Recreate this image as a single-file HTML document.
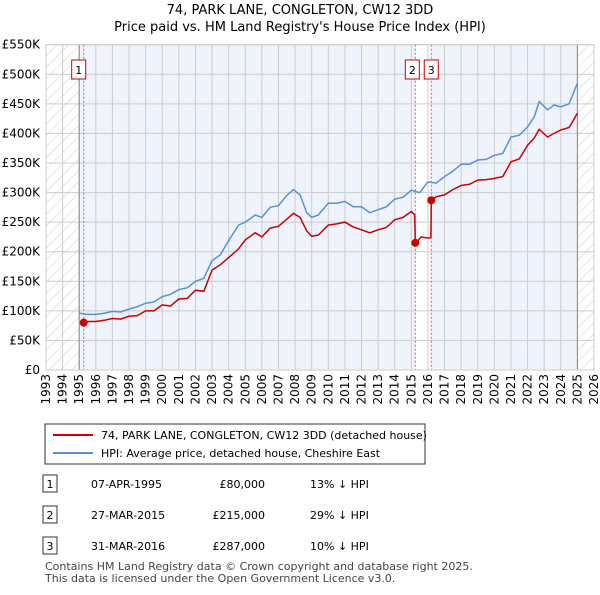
<!DOCTYPE html>
<html><head><meta charset="utf-8"><style>
body{margin:0;background:#fff;font-family:"Liberation Sans",sans-serif;}
svg text{font-family:"DejaVu Sans","Liberation Sans",sans-serif;}
</style></head><body>
<svg width="600" height="590" id="chart">
<defs><pattern id="hatch" width="8" height="8" patternUnits="userSpaceOnUse" patternTransform="rotate(45)"><rect width="8" height="8" fill="#fff"/><line x1="0" y1="0" x2="0" y2="8" stroke="#ccc" stroke-width="1"/></pattern></defs>
<text x="300" y="14" text-anchor="middle" font-size="13">74, PARK LANE, CONGLETON, CW12 3DD</text>
<text x="300" y="31" text-anchor="middle" font-size="13">Price paid vs. HM Land Registry's House Price Index (HPI)</text>
<g id="plot"></g>
<g>
<rect x="45" y="424" width="380" height="40" fill="#fff" stroke="#333"/>
<line x1="53" y1="435" x2="93" y2="435" stroke="#cc0000" stroke-width="2"/>
<text x="101" y="439" font-size="11">74, PARK LANE, CONGLETON, CW12 3DD (detached house)</text>
<line x1="53" y1="453" x2="93" y2="453" stroke="#5b8fd6" stroke-width="2"/>
<text x="101" y="457" font-size="11">HPI: Average price, detached house, Cheshire East</text>
</g>
<g font-size="11">
<rect x="43" y="475" width="14" height="17" fill="#fff" stroke="#333"/><text x="50" y="488" text-anchor="middle">1</text>
<text x="91" y="488">07-APR-1995</text><text x="265" y="488" text-anchor="end">£80,000</text><text x="310" y="488">13% ↓ HPI</text>
<rect x="43" y="506" width="14" height="17" fill="#fff" stroke="#333"/><text x="50" y="519" text-anchor="middle">2</text>
<text x="91" y="519">27-MAR-2015</text><text x="265" y="519" text-anchor="end">£215,000</text><text x="310" y="519">29% ↓ HPI</text>
<rect x="43" y="537" width="14" height="17" fill="#fff" stroke="#333"/><text x="50" y="550" text-anchor="middle">3</text>
<text x="91" y="550">31-MAR-2016</text><text x="265" y="550" text-anchor="end">£287,000</text><text x="310" y="550">10% ↓ HPI</text>
</g>
<text x="45" y="570" font-size="11" fill="#444">Contains HM Land Registry data © Crown copyright and database right 2025.</text>
<text x="45" y="582" font-size="11" fill="#444">This data is licensed under the Open Government Licence v3.0.</text>
</svg>
<script>
const hpiYears=[1995,1995.5,1996,1996.5,1997,1997.5,1998,1998.5,1999,1999.5,2000,2000.5,2001,2001.5,2002,2002.5,2003,2003.5,2004,2004.6,2005,2005.6,2006,2006.5,2007,2007.5,2007.9,2008.3,2008.7,2009,2009.4,2010,2010.5,2011,2011.5,2012,2012.5,2013,2013.5,2014,2014.5,2015,2015.5,2016,2016.5,2017,2017.5,2018,2018.5,2019,2019.5,2020,2020.5,2021,2021.5,2022,2022.4,2022.7,2023.2,2023.6,2024,2024.5,2025];
const hpiValues=[96,94,94,96,99,98,103,107,113,115,124,128,136,139,150,155,185,195,219,245,250,262,258,275,278,295,305,296,266,258,262,282,282,285,276,276,266,271,276,289,292,304,300,318,316,327,336,348,348,355,356,363,366,394,397,411,428,454,440,448,445,450,485];
const redYears=[1995.27,1995.5,1996,1996.5,1997,1997.5,1998,1998.5,1999,1999.5,2000,2000.5,2001,2001.5,2002,2002.5,2003,2003.5,2004,2004.6,2005,2005.6,2006,2006.5,2007,2007.5,2007.9,2008.3,2008.7,2009,2009.4,2010,2010.5,2011,2011.5,2012,2012.5,2013,2013.5,2014,2014.5,2015,2015.2,2015.24,2015.6,2016,2016.18,2016.2,2016.5,2017,2017.5,2018,2018.5,2019,2019.5,2020,2020.5,2021,2021.5,2022,2022.4,2022.7,2023.2,2023.6,2024,2024.5,2025];
const redValues=[80,82,82,84,87,86,91,92,100,100,110,108,120,121,135,133,169,178,190,205,220,232,225,240,243,255,265,258,235,226,228,245,247,250,242,237,232,237,241,254,258,268,262,214,225,223,224,287,293,296,305,312,314,321,322,324,327,352,357,380,392,407,394,400,406,410,434];
const saleYears=[1995.27,2015.24,2016.2];
const saleValues=[80,215,287];
const saleLabels=["1","2","3"];
const yTicks=[0,50,100,150,200,250,300,350,400,450,500,550];
const yTickLabels=["£0","£50K","£100K","£150K","£200K","£250K","£300K","£350K","£400K","£450K","£500K","£550K"];
const xTicks=[1993,1994,1995,1996,1997,1998,1999,2000,2001,2002,2003,2004,2005,2006,2007,2008,2009,2010,2011,2012,2013,2014,2015,2016,2017,2018,2019,2020,2021,2022,2023,2024,2025,2026];

const X0=46,X1=594,Y0=370,Y1=44.7;
const xS=y=>X0+(y-1993)/(2026-1993)*(X1-X0);
const yS=v=>Y0-v/550*(Y0-Y1);
const NS="http://www.w3.org/2000/svg";
const g=document.getElementById('plot');
function mk(t,a){const e=document.createElementNS(NS,t);for(const k in a)e.setAttribute(k,a[k]);g.appendChild(e);return e;}
let e;
e=mk('rect',{x:X0,y:Y1,width:X1-X0,height:Y0-Y1,fill:'#fff'});


e=mk('rect',{x:xS(1995),y:Y1,width:xS(2025)-xS(1995),height:Y0-Y1,fill:'#eef3fc'});


e=mk('rect',{x:xS(saleYears[1]),y:Y1,width:xS(saleYears[2])-xS(saleYears[1]),height:Y0-Y1,fill:'#fff'});


e=mk('rect',{x:X0,y:Y1,width:xS(1995)-X0,height:Y0-Y1,fill:'url(#hatch)'});


e=mk('rect',{x:xS(2025),y:Y1,width:X1-xS(2025),height:Y0-Y1,fill:'url(#hatch)'});


xTicks.forEach(t=>{
 e=mk('line',{x1:xS(t),x2:xS(t),y1:Y1,y2:Y0,stroke:'#ccc','stroke-width':1});
 
 
 const tx=xS(t)+4, ty=Y0+4;
 e=mk('text',{x:tx,y:ty,'text-anchor':'end','font-size':12,transform:'rotate(-90 '+tx+' '+ty+')'});
 e.textContent=t;
 
 
});
yTicks.forEach((t,i)=>{
 e=mk('line',{x1:X0,x2:X1,y1:yS(t),y2:yS(t),stroke:'#ccc','stroke-width':1});
 
 
 e=mk('text',{x:X0-6,y:yS(t)+4,'text-anchor':'end','font-size':12});
 e.textContent=yTickLabels[i];
 
 
});
[1995,2025].forEach(t=>{
 e=mk('line',{x1:xS(t),x2:xS(t),y1:Y1,y2:Y0,stroke:'#888','stroke-width':1});
 
 
});
saleYears.forEach((s,i)=>{
 e=mk('line',{x1:xS(s),x2:xS(s),y1:Y1,y2:Y0,stroke:'#e55','stroke-width':1,'stroke-dasharray':'2,2'});
 
 
});
e=mk('path',{d:hpiYears.map((y,i)=>(i?'L':'M')+xS(y).toFixed(1)+','+yS(hpiValues[i]).toFixed(1)).join(''),fill:'none',stroke:'#5b8fd6','stroke-width':1.5});


e=mk('path',{d:redYears.map((y,i)=>(i?'L':'M')+xS(y).toFixed(1)+','+yS(redValues[i]).toFixed(1)).join(''),fill:'none',stroke:'#cc0000','stroke-width':1.5});


saleYears.forEach((s,i)=>{
 e=mk('circle',{cx:xS(s),cy:yS(saleValues[i]),r:4,fill:'#cc0000'});
 
 
 const bx=i===1?xS(s)-10:(i===2?xS(s)-7:xS(s)-12);
 e=mk('rect',{x:bx,y:60,width:14,height:19,fill:'#fff',stroke:'#cc0000'});
 
 
 e=mk('text',{x:bx+7,y:74,'text-anchor':'middle','font-size':11});
 e.textContent=saleLabels[i];
 
 
});
e=mk('rect',{x:X0,y:Y1,width:X1-X0,height:Y0-Y1,fill:'none',stroke:'#ccc'});


</script>
</body></html>
